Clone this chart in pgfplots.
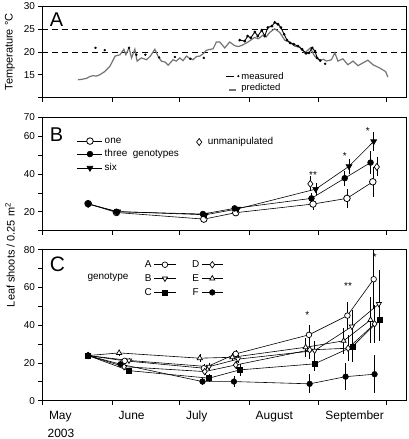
\documentclass[border=0pt]{standalone}
\usepackage{fontspec}
\setmainfont{Liberation Sans}
\usepackage{pgfplots}
\pgfplotsset{compat=1.18}
\definecolor{predgray}{RGB}{115,115,115}
\pgfplotsset{
  panel/.style={scale only axis, width=364bp, xmin=121, xmax=283,
    xtick={121,152,182,213,244,274}, xticklabels={},
    tick align=outside, tick pos=left,
    axis line style={line width=0.8pt}, major tick length=4bp,
    every tick/.style={line width=0.8pt, black},
    tick label style={font=\fontsize{10}{12}\selectfont},
    /pgf/number format/assume math mode=true, clip=false},
  longleg/.style={legend image code/.code={\draw[mark repeat=2,mark phase=2,##1] plot coordinates {(0cm,0cm) (0.44cm,0cm) (0.88cm,0cm)};}},
  shortleg/.style={legend image code/.code={\draw[mark repeat=2,mark phase=2,##1] plot coordinates {(0cm,0cm) (0.38cm,0cm) (0.76cm,0cm)};}},
  eb/.style={error bars/y dir=both, error bars/y explicit, error bars/error mark=none, error bars/error bar style={line width=0.45pt, black, solid}},
  ln/.style={black, line width=0.6pt},
}
\begin{document}
\begin{tikzpicture}
\path[use as bounding box] (0,0) rectangle (409bp,-439bp);
% ---------------- Panel A
\begin{axis}[panel, at={(42.5bp,-97.5bp)}, anchor=south west, height=91bp,
  ymin=10, ymax=30, ytick={10,15,20,25,30}, yticklabels={,15,20,25,30},
  legend style={draw=none, fill=none, at={(0.5,0.31)}, anchor=north west, font=\fontsize{9.5}{10}\selectfont, row sep=-1pt, inner sep=1pt},
  legend cell align=left]
\addlegendimage{legend image code/.code={\draw[black, line width=1.4pt] (0pt,0pt) -- (8pt,0pt); \fill[black] (12pt,0.5pt) circle (0.9pt);}}
\addlegendentry{measured}
\addlegendimage{legend image code/.code={\draw[predgray, line width=1.3pt] (3pt,-2pt) -- (10pt,-2pt);}}
\addlegendentry{predicted}
\addplot[black, dashed, line width=0.9pt, dash pattern=on 6pt off 4pt, forget plot] coordinates {(121,25) (283,25)};
\addplot[black, dashed, line width=0.9pt, dash pattern=on 6pt off 4pt, forget plot] coordinates {(121,20) (283,20)};
\addplot[predgray, line width=1.2pt, forget plot] coordinates {
(136.8,13.9) (138.5,14.0) (140.6,14.2) (142.0,14.6) (143.5,14.8) (145,14.7) (146.5,15.0) (148.7,15.7) (150.9,16.8) (152.2,18.0) (153.3,19.1) (155.5,19.4) (157.2,20.6) (158.1,19.4) (159.5,20.9) (160.6,18.7) (162.1,20.6) (163.1,18.0) (165.0,18.7) (167.3,18.3) (169.0,19.1) (171.0,20.6) (172.4,19.1) (173.9,18.0) (175.5,17.8) (176.9,17.1) (179.1,18.3) (180.5,18.0) (182.1,18.7) (183.5,18.1) (185.1,19.1) (186.5,18.6) (188.0,18.3) (189.5,19.0) (191.0,19.1) (192.5,19.6) (194.0,20.4) (196.9,20.7) (198.4,22.2) (199.9,22.2) (202.1,20.9) (204.3,22.2) (206.5,21.4) (208,21.2) (209.5,21.4) (212.5,22.2) (215.4,23.2) (217,22.9) (219.1,23.7) (220.5,23.3) (222.1,24.3) (224.3,25.1) (226.6,24.3) (228.8,22.6) (231.0,22.2) (233.2,21.3) (235.5,21.1) (237.7,19.8) (240.2,20.9) (242.1,19.1) (244.4,18.2) (246,18.4) (247.4,18.0) (249.6,18.3) (251.1,19.8) (252.5,18.0) (254.7,18.5) (256.9,17.2) (259.2,18.0) (261.4,17.0) (263.6,17.6) (265.8,18.2) (268.1,17.2) (271.0,16.5) (273.7,15.7) (274.7,14.5)};
\addplot[black, only marks, mark=*, mark size=1pt, forget plot] coordinates {
(144.6,20.9) (148.7,20.4) (159.5,20.9) (162.8,19.4) (166.8,19.4) (172.9,18.8) (179.9,18.9) (186.8,18.5) (192.8,18.7) (246.8,17.4)};
\addplot[black, line width=0.9pt, mark=*, mark size=0.9pt, forget plot] coordinates {
(208.8,22.6) (211.0,22.4) (212.3,23.5) (213.7,23.1) (215.5,24.4) (216.8,23.5) (218.6,24.8) (219.9,23.5) (221.3,25.4) (223.1,25.7) (224.4,26.5) (225.8,26.1) (227.1,25.4) (228.5,23.9) (229.8,22.6) (231.2,22.0) (232.9,21.7) (234.7,21.3) (236.5,20.6) (238.3,19.7) (239.6,19.8) (241.0,20.9) (242.3,20.2) (243.2,18.7) (244.6,18.1)};
\node[anchor=base west, inner sep=0pt, font=\fontsize{20}{20}\selectfont] at (rel axis cs:0.02,0.778) {A};
\end{axis}
% ---------------- Panel B
\begin{axis}[panel, at={(42.5bp,-230.6bp)}, anchor=south west, height=113.1bp,
  ymin=10, ymax=70, ytick={10,20,30,40,50,60,70}, yticklabels={,20,,40,,60,70},
  legend style={draw=none, fill=none, at={(0.092,0.85)}, anchor=north west, font=\fontsize{10}{11}\selectfont, row sep=1.2pt, inner sep=1pt},
  legend cell align=left]
\addplot[ln, longleg, mark=*, mark size=3.3pt, mark options={fill=white, solid, line width=0.8pt}, eb] coordinates {
(141.3,24.3) +- (0,1) (153.9,19.6) +- (0,1) (192.8,16.1) +- (0,1) (207,19.5) +- (0,1) (241.4,24.1) +- (0,3) (256.5,27.1) +- (0,5) (268,35.9) +- (0,8)};
\addlegendentry{one}
\addplot[ln, longleg, mark=*, mark size=2.9pt, eb] coordinates {
(141.3,24.3) +- (0,1) (153.9,20.0) +- (0,1) (192.4,18.8) +- (0,1) (206.5,21.8) +- (0,1) (240.7,27.1) +- (0,3) (255.5,37.8) +- (0,4) (267,46.1) +- (0,6)};
\addlegendentry{three\ \ genotypes}
\addplot[ln, longleg, mark=triangle*, mark size=3.4pt, mark options={rotate=180}, eb] coordinates {
(141.3,24.0) +- (0,1) (154.5,20.1) +- (0,1) (193.5,18.4) +- (0,1) (207.8,21.5) +- (0,1) (242.6,32.0) +- (0,3) (257.4,44.1) +- (0,4) (268.4,57.3) +- (0,5)};
\addlegendentry{six}
\addplot[black, only marks, mark=diamond*, mark size=3.5pt, mark options={fill=white, line width=0.7pt}, eb, forget plot] coordinates {
(240.2,34.8) +- (0,4) (269.8,43.8) +- (0,5)};
\node[font=\fontsize{10}{10}\selectfont] at (axis cs:241.4,39.5) {**};
\node[font=\fontsize{10}{10}\selectfont] at (axis cs:255.6,49.6) {*};
\node[font=\fontsize{10}{10}\selectfont] at (axis cs:265.8,63) {*};
\node[anchor=base west, inner sep=0pt, font=\fontsize{20}{20}\selectfont] at (rel axis cs:0.02,0.786) {B};
\end{axis}
% overlay for "unmanipulated" legend
\begin{axis}[at={(42.5bp,-230.6bp)}, anchor=south west, scale only axis, width=364bp, height=113.1bp, hide axis, xmin=0, xmax=1, ymin=0, ymax=1,
  legend style={draw=none, fill=none, at={(0.42,0.85)}, anchor=north west, font=\fontsize{10}{11}\selectfont, inner sep=1pt, /tikz/every odd column/.append style={column sep=4bp}}]
\addlegendimage{only marks, mark=diamond*, mark size=3.5pt, mark options={fill=white, line width=0.7pt}}
\addlegendentry{unmanipulated}
\end{axis}
% ---------------- Panel C
\begin{axis}[panel, at={(42.5bp,-400.6bp)}, anchor=south west, height=150.8bp,
  ymin=0, ymax=80, ytick={0,10,...,80}, yticklabels={0,,20,,40,,60,,80},
  xticklabels={May,June,July,August,September,},
  xticklabel style={anchor=north west, xshift=3bp, yshift=-3bp, font=\fontsize{12}{12}\selectfont},
  legend style={draw=none, fill=none, at={(0.272,0.95)}, anchor=north west, font=\fontsize{10}{11}\selectfont, row sep=1.5pt, inner sep=1pt,
    /tikz/every even column/.append style={column sep=14bp}},
  legend columns=2, legend plot pos=right]
% A
\addplot[ln, shortleg, mark=*, mark size=2.8pt, mark options={fill=white, solid, line width=0.7pt}, eb] coordinates {
(141.3,23.9) +- (0,1) (157.6,21.1) +- (0,1.5) (192.8,17.2) +- (0,2) (207,24.8) +- (0,2) (239.6,34.9) +- (0,5) (256.7,45.1) +- (0,7) (268.4,64.4) +- (0,16)};
\addlegendentry{A}
% D
\addplot[ln, shortleg, mark=diamond*, mark size=3.2pt, mark options={fill=white, solid, line width=0.7pt}, eb] coordinates {
(141.3,23.9) +- (0,1) (157.3,18.0) +- (0,1.5) (193.2,15.4) +- (0,2) (207,18.9) +- (0,2) (239.9,26.9) +- (0,5) (257,27.8) +- (0,7) (268.8,40.7) +- (0,10)};
\addlegendentry{D}
% B
\addplot[ln, shortleg, mark=triangle*, mark size=3.0pt, mark options={fill=white, solid, rotate=180, line width=0.7pt}, eb] coordinates {
(141.3,23.9) +- (0,1) (159.5,21.3) +- (0,1.5) (195.1,18.0) +- (0,2) (208,22.0) +- (0,2) (242.1,26.5) +- (0,5) (258.7,39.3) +- (0,9) (270.7,51.3) +- (0,18)};
\addlegendentry{B}
% E
\addplot[ln, shortleg, mark=triangle*, mark size=3.0pt, mark options={fill=white, solid, line width=0.7pt}, eb] coordinates {
(141.3,23.9) +- (0,1) (155.1,25.3) +- (0,1.5) (191,22.5) +- (0,2) (205.5,23.0) +- (0,2) (238.1,28.3) +- (0,5) (255,31.7) +- (0,7) (267,42.8) +- (0,12)};
\addlegendentry{E}
% C
\addplot[ln, shortleg, mark=square*, mark size=2.5pt, eb] coordinates {
(141.3,23.9) +- (0,1) (159.5,15.9) +- (0,1.5) (195.1,11.9) +- (0,2) (208.8,16.3) +- (0,3) (242.1,19.5) +- (0,4) (258.9,28.6) +- (0,8) (271,42.8) +- (0,11)};
\addlegendentry{C}
% F
\addplot[ln, shortleg, mark=*, mark size=2.8pt, eb] coordinates {
(141.3,23.9) +- (0,1) (155.7,19.3) +- (0,1.5) (192.2,10.1) +- (0,2) (206.2,10.1) +- (0,3) (239.9,8.9) +- (0,5) (255.9,12.7) +- (0,7) (268.8,14.0) +- (0,10)};
\addlegendentry{F}
\node[font=\fontsize{10}{10}\selectfont] at (axis cs:238.8,45.3) {*};
\node[font=\fontsize{10}{10}\selectfont] at (axis cs:257,60.9) {**};
\node[font=\fontsize{10}{10}\selectfont] at (axis cs:268.9,76.3) {*};
\node[font=\fontsize{10}{10}\selectfont] at (rel axis cs:0.18,0.82) {genotype};
\node[anchor=base west, inner sep=0pt, font=\fontsize{21}{21}\selectfont] at (rel axis cs:0.02,0.855) {C};
\end{axis}
\node[rotate=90, font=\fontsize{11}{11}\selectfont] at (10bp,-52bp) {Temperature °C};
\node[rotate=90, font=\fontsize{11}{11}\selectfont] at (10bp,-255bp) {Leaf shoots / 0.25 m\textsuperscript{2}};
\node[font=\fontsize{12}{12}\selectfont] at (61bp,-433bp) {2003};
\end{tikzpicture}
\end{document}
